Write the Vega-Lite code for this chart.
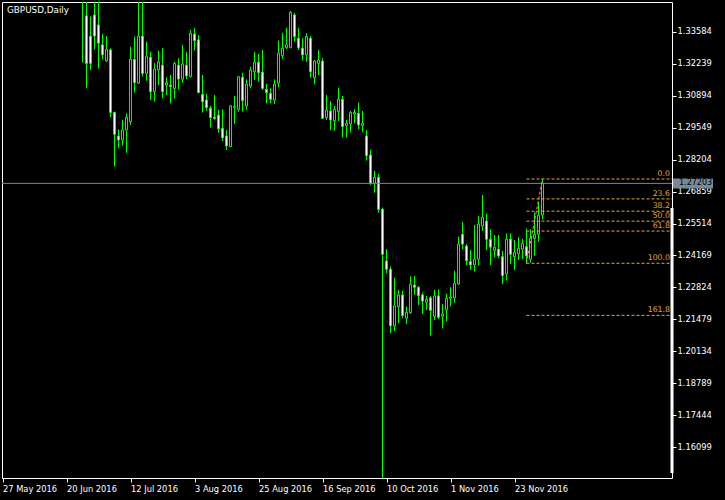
{
"$schema": "https://vega.github.io/schema/vega-lite/v6.json",
"width": 670,
"height": 476,
"autosize": {"type": "none"},
"padding": {"left": 2, "top": 2, "right": 53, "bottom": 22},
"background": "black",
"config": {"view": {"stroke": "white", "strokeWidth": 1, "fill": "black"}, "font": "DejaVu Sans", "axis": {"labelOverlap": false}},
"title": {"text": "GBPUSD,Daily", "anchor": "start", "frame": "group", "orient": "top", "offset": -11.5, "dx": 5, "dy": 8.5, "color": "white", "font": "DejaVu Sans", "fontSize": 8.8, "fontWeight": "normal", "baseline": "alphabetic"},
"datasets": {
"candles": [
{"d":"2016-06-24","o":1.4877,"h":1.5018,"l":1.3229,"c":1.3679},
{"d":"2016-06-27","o":1.3425,"h":1.3705,"l":1.3120,"c":1.3225},
{"d":"2016-06-28","o":1.3340,"h":1.3422,"l":1.3197,"c":1.3225},
{"d":"2016-06-29","o":1.3429,"h":1.3532,"l":1.3284,"c":1.3340},
{"d":"2016-06-30","o":1.3387,"h":1.3510,"l":1.3204,"c":1.3310},
{"d":"2016-07-01","o":1.3303,"h":1.3349,"l":1.3242,"c":1.3261},
{"d":"2016-07-04","o":1.3235,"h":1.3340,"l":1.3232,"c":1.3284},
{"d":"2016-07-05","o":1.3282,"h":1.3289,"l":1.2998,"c":1.3019},
{"d":"2016-07-06","o":1.3019,"h":1.3022,"l":1.2791,"c":1.2927},
{"d":"2016-07-07","o":1.2920,"h":1.2946,"l":1.2870,"c":1.2903},
{"d":"2016-07-08","o":1.2903,"h":1.2988,"l":1.2879,"c":1.2945},
{"d":"2016-07-11","o":1.2945,"h":1.3015,"l":1.2849,"c":1.2998},
{"d":"2016-07-12","o":1.2980,"h":1.3295,"l":1.2966,"c":1.3242},
{"d":"2016-07-13","o":1.3242,"h":1.3338,"l":1.3102,"c":1.3144},
{"d":"2016-07-14","o":1.3142,"h":1.3482,"l":1.3140,"c":1.3340},
{"d":"2016-07-15","o":1.3340,"h":1.3485,"l":1.3170,"c":1.3183},
{"d":"2016-07-18","o":1.3183,"h":1.3316,"l":1.3152,"c":1.3256},
{"d":"2016-07-19","o":1.3251,"h":1.3274,"l":1.3071,"c":1.3106},
{"d":"2016-07-20","o":1.3106,"h":1.3226,"l":1.3064,"c":1.3202},
{"d":"2016-07-21","o":1.3197,"h":1.3279,"l":1.3134,"c":1.3232},
{"d":"2016-07-22","o":1.3218,"h":1.3289,"l":1.3078,"c":1.3106},
{"d":"2016-07-25","o":1.3134,"h":1.3167,"l":1.3092,"c":1.3144},
{"d":"2016-07-26","o":1.3134,"h":1.3176,"l":1.3057,"c":1.3127},
{"d":"2016-07-27","o":1.3120,"h":1.3232,"l":1.3077,"c":1.3225},
{"d":"2016-07-28","o":1.3218,"h":1.3247,"l":1.3116,"c":1.3159},
{"d":"2016-07-29","o":1.3158,"h":1.3303,"l":1.3144,"c":1.3223},
{"d":"2016-08-01","o":1.3218,"h":1.3274,"l":1.3158,"c":1.3172},
{"d":"2016-08-02","o":1.3169,"h":1.3366,"l":1.3167,"c":1.3352},
{"d":"2016-08-03","o":1.3349,"h":1.3373,"l":1.3279,"c":1.3321},
{"d":"2016-08-04","o":1.3324,"h":1.3345,"l":1.3100,"c":1.3102},
{"d":"2016-08-05","o":1.3095,"h":1.3176,"l":1.3018,"c":1.3064},
{"d":"2016-08-08","o":1.3071,"h":1.3097,"l":1.3026,"c":1.3039},
{"d":"2016-08-09","o":1.3036,"h":1.3046,"l":1.2955,"c":1.2997},
{"d":"2016-08-10","o":1.2999,"h":1.3092,"l":1.2987,"c":1.2993},
{"d":"2016-08-11","o":1.3008,"h":1.3029,"l":1.2934,"c":1.2950},
{"d":"2016-08-12","o":1.2952,"h":1.3032,"l":1.2899,"c":1.2912},
{"d":"2016-08-15","o":1.2920,"h":1.2945,"l":1.2861,"c":1.2878},
{"d":"2016-08-16","o":1.2875,"h":1.3050,"l":1.2872,"c":1.3046},
{"d":"2016-08-17","o":1.3040,"h":1.3088,"l":1.2970,"c":1.3043},
{"d":"2016-08-18","o":1.3032,"h":1.3172,"l":1.3022,"c":1.3169},
{"d":"2016-08-19","o":1.3167,"h":1.3186,"l":1.3022,"c":1.3068},
{"d":"2016-08-22","o":1.3046,"h":1.3158,"l":1.3029,"c":1.3138},
{"d":"2016-08-23","o":1.3130,"h":1.3211,"l":1.3120,"c":1.3197},
{"d":"2016-08-24","o":1.3190,"h":1.3274,"l":1.3155,"c":1.3230},
{"d":"2016-08-25","o":1.3230,"h":1.3265,"l":1.3148,"c":1.3186},
{"d":"2016-08-26","o":1.3188,"h":1.3282,"l":1.3113,"c":1.3120},
{"d":"2016-08-29","o":1.3116,"h":1.3139,"l":1.3057,"c":1.3102},
{"d":"2016-08-30","o":1.3099,"h":1.3120,"l":1.3057,"c":1.3074},
{"d":"2016-08-31","o":1.3071,"h":1.3158,"l":1.3054,"c":1.3138},
{"d":"2016-09-01","o":1.3142,"h":1.3321,"l":1.3124,"c":1.3268},
{"d":"2016-09-02","o":1.3257,"h":1.3354,"l":1.3244,"c":1.3289},
{"d":"2016-09-05","o":1.3291,"h":1.3375,"l":1.3286,"c":1.3303},
{"d":"2016-09-06","o":1.3291,"h":1.3446,"l":1.3289,"c":1.3440},
{"d":"2016-09-07","o":1.3429,"h":1.3438,"l":1.3317,"c":1.3338},
{"d":"2016-09-08","o":1.3331,"h":1.3375,"l":1.3282,"c":1.3291},
{"d":"2016-09-09","o":1.3289,"h":1.3331,"l":1.3237,"c":1.3261},
{"d":"2016-09-12","o":1.3261,"h":1.3352,"l":1.3232,"c":1.3338},
{"d":"2016-09-13","o":1.3331,"h":1.3340,"l":1.3165,"c":1.3190},
{"d":"2016-09-14","o":1.3165,"h":1.3239,"l":1.3137,"c":1.3235},
{"d":"2016-09-15","o":1.3225,"h":1.3282,"l":1.3176,"c":1.3239},
{"d":"2016-09-16","o":1.3235,"h":1.3247,"l":1.2991,"c":1.2994},
{"d":"2016-09-19","o":1.2997,"h":1.3092,"l":1.2987,"c":1.3029},
{"d":"2016-09-20","o":1.3025,"h":1.3067,"l":1.2945,"c":1.2987},
{"d":"2016-09-21","o":1.2984,"h":1.3046,"l":1.2942,"c":1.3032},
{"d":"2016-09-22","o":1.3022,"h":1.3123,"l":1.2983,"c":1.3075},
{"d":"2016-09-23","o":1.3074,"h":1.3088,"l":1.2914,"c":1.2959},
{"d":"2016-09-26","o":1.2963,"h":1.2987,"l":1.2914,"c":1.2973},
{"d":"2016-09-27","o":1.2970,"h":1.3025,"l":1.2934,"c":1.3019},
{"d":"2016-09-28","o":1.3012,"h":1.3033,"l":1.2973,"c":1.3019},
{"d":"2016-09-29","o":1.3015,"h":1.3060,"l":1.2949,"c":1.2966},
{"d":"2016-09-30","o":1.2963,"h":1.3025,"l":1.2935,"c":1.2973},
{"d":"2016-10-03","o":1.2920,"h":1.2945,"l":1.2816,"c":1.2837},
{"d":"2016-10-04","o":1.2840,"h":1.2861,"l":1.2714,"c":1.2721},
{"d":"2016-10-05","o":1.2721,"h":1.2773,"l":1.2681,"c":1.2746},
{"d":"2016-10-06","o":1.2746,"h":1.2760,"l":1.2597,"c":1.2611},
{"d":"2016-10-07","o":1.2611,"h":1.2619,"l":1.1450,"c":1.2422},
{"d":"2016-10-10","o":1.2394,"h":1.2444,"l":1.2342,"c":1.2359},
{"d":"2016-10-11","o":1.2359,"h":1.2370,"l":1.2090,"c":1.2121},
{"d":"2016-10-12","o":1.2120,"h":1.2324,"l":1.2099,"c":1.2205},
{"d":"2016-10-13","o":1.2201,"h":1.2272,"l":1.2132,"c":1.2251},
{"d":"2016-10-14","o":1.2251,"h":1.2269,"l":1.2153,"c":1.2164},
{"d":"2016-10-17","o":1.2153,"h":1.2202,"l":1.2129,"c":1.2178},
{"d":"2016-10-18","o":1.2176,"h":1.2328,"l":1.2171,"c":1.2296},
{"d":"2016-10-19","o":1.2293,"h":1.2331,"l":1.2251,"c":1.2283},
{"d":"2016-10-20","o":1.2283,"h":1.2289,"l":1.2209,"c":1.2248},
{"d":"2016-10-21","o":1.2251,"h":1.2261,"l":1.2170,"c":1.2225},
{"d":"2016-10-24","o":1.2220,"h":1.2247,"l":1.2188,"c":1.2233},
{"d":"2016-10-25","o":1.2239,"h":1.2247,"l":1.2080,"c":1.2185},
{"d":"2016-10-26","o":1.2160,"h":1.2272,"l":1.2145,"c":1.2247},
{"d":"2016-10-27","o":1.2247,"h":1.2275,"l":1.2149,"c":1.2157},
{"d":"2016-10-28","o":1.2161,"h":1.2213,"l":1.2110,"c":1.2171},
{"d":"2016-10-31","o":1.2188,"h":1.2255,"l":1.2139,"c":1.2237},
{"d":"2016-11-01","o":1.2237,"h":1.2283,"l":1.2202,"c":1.2243},
{"d":"2016-11-02","o":1.2239,"h":1.2353,"l":1.2219,"c":1.2300},
{"d":"2016-11-03","o":1.2297,"h":1.2496,"l":1.2293,"c":1.2465},
{"d":"2016-11-04","o":1.2506,"h":1.2559,"l":1.2444,"c":1.2465},
{"d":"2016-11-07","o":1.2457,"h":1.2465,"l":1.2377,"c":1.2395},
{"d":"2016-11-08","o":1.2391,"h":1.2440,"l":1.2356,"c":1.2377},
{"d":"2016-11-09","o":1.2377,"h":1.2545,"l":1.2349,"c":1.2401},
{"d":"2016-11-10","o":1.2401,"h":1.2583,"l":1.2374,"c":1.2549},
{"d":"2016-11-11","o":1.2541,"h":1.2671,"l":1.2520,"c":1.2578},
{"d":"2016-11-14","o":1.2562,"h":1.2592,"l":1.2440,"c":1.2485},
{"d":"2016-11-15","o":1.2485,"h":1.2527,"l":1.2377,"c":1.2452},
{"d":"2016-11-16","o":1.2438,"h":1.2503,"l":1.2409,"c":1.2452},
{"d":"2016-11-17","o":1.2444,"h":1.2503,"l":1.2405,"c":1.2415},
{"d":"2016-11-18","o":1.2412,"h":1.2436,"l":1.2297,"c":1.2332},
{"d":"2016-11-21","o":1.2339,"h":1.2510,"l":1.2311,"c":1.2486},
{"d":"2016-11-22","o":1.2486,"h":1.2510,"l":1.2381,"c":1.2422},
{"d":"2016-11-23","o":1.2412,"h":1.2482,"l":1.2356,"c":1.2430},
{"d":"2016-11-24","o":1.2424,"h":1.2494,"l":1.2398,"c":1.2447},
{"d":"2016-11-25","o":1.2443,"h":1.2486,"l":1.2401,"c":1.2468},
{"d":"2016-11-28","o":1.2454,"h":1.2531,"l":1.2384,"c":1.2415},
{"d":"2016-11-29","o":1.2401,"h":1.2527,"l":1.2387,"c":1.2489},
{"d":"2016-11-30","o":1.2489,"h":1.2597,"l":1.2415,"c":1.2506},
{"d":"2016-12-01","o":1.2506,"h":1.2643,"l":1.2475,"c":1.2587},
{"d":"2016-12-02","o":1.2587,"h":1.2739,"l":1.2569,"c":1.2720}
],
"fib": [
{"level":"0.0","price":1.27387,"start":"2016-11-28"},
{"level":"23.6","price":1.26550,"start":"2016-11-28"},
{"level":"38.2","price":1.26032,"start":"2016-11-28"},
{"level":"50.0","price":1.25614,"start":"2016-11-28"},
{"level":"61.8","price":1.25196,"start":"2016-11-28"},
{"level":"100.0","price":1.23841,"start":"2016-11-28"},
{"level":"161.8","price":1.21650,"start":"2016-11-28"}
],
"trend": [{"from":"2016-11-28","to":"2016-12-02","p1":1.23841,"p2":1.27387}],
"bid": [{"price":1.27203,"label":"1.27203"}]
},
"layer": [
{
"data": {"name": "candles"},
"mark": {"type": "rule", "color": "#00FF00", "strokeWidth": 1, "clip": true},
"encoding": {
"x": {"field": "d", "type": "ordinal", "title": null,
"scale": {"type": "point", "padding": 0, "range": [0.5, 540.5], "domain": ["2016-05-27","2016-05-30","2016-05-31","2016-06-01","2016-06-02","2016-06-03","2016-06-06","2016-06-07","2016-06-08","2016-06-09","2016-06-10","2016-06-13","2016-06-14","2016-06-15","2016-06-16","2016-06-17","2016-06-20","2016-06-21","2016-06-22","2016-06-23","2016-06-24","2016-06-27","2016-06-28","2016-06-29","2016-06-30","2016-07-01","2016-07-04","2016-07-05","2016-07-06","2016-07-07","2016-07-08","2016-07-11","2016-07-12","2016-07-13","2016-07-14","2016-07-15","2016-07-18","2016-07-19","2016-07-20","2016-07-21","2016-07-22","2016-07-25","2016-07-26","2016-07-27","2016-07-28","2016-07-29","2016-08-01","2016-08-02","2016-08-03","2016-08-04","2016-08-05","2016-08-08","2016-08-09","2016-08-10","2016-08-11","2016-08-12","2016-08-15","2016-08-16","2016-08-17","2016-08-18","2016-08-19","2016-08-22","2016-08-23","2016-08-24","2016-08-25","2016-08-26","2016-08-29","2016-08-30","2016-08-31","2016-09-01","2016-09-02","2016-09-05","2016-09-06","2016-09-07","2016-09-08","2016-09-09","2016-09-12","2016-09-13","2016-09-14","2016-09-15","2016-09-16","2016-09-19","2016-09-20","2016-09-21","2016-09-22","2016-09-23","2016-09-26","2016-09-27","2016-09-28","2016-09-29","2016-09-30","2016-10-03","2016-10-04","2016-10-05","2016-10-06","2016-10-07","2016-10-10","2016-10-11","2016-10-12","2016-10-13","2016-10-14","2016-10-17","2016-10-18","2016-10-19","2016-10-20","2016-10-21","2016-10-24","2016-10-25","2016-10-26","2016-10-27","2016-10-28","2016-10-31","2016-11-01","2016-11-02","2016-11-03","2016-11-04","2016-11-07","2016-11-08","2016-11-09","2016-11-10","2016-11-11","2016-11-14","2016-11-15","2016-11-16","2016-11-17","2016-11-18","2016-11-21","2016-11-22","2016-11-23","2016-11-24","2016-11-25","2016-11-28","2016-11-29","2016-11-30","2016-12-01","2016-12-02"]},
"axis": {"title": null, "values": ["2016-05-27","2016-06-20","2016-07-12","2016-08-03","2016-08-25","2016-09-16","2016-10-10","2016-11-01","2016-11-23"], "labelExpr": "utcFormat(toDate(datum.value), '%-d %b %Y')", "domain": false, "grid": false, "tickColor": "white", "tickSize": 4, "labelColor": "white", "labelAlign": "left", "labelBaseline": "top", "labelPadding": 2, "labelFontSize": 8.3, "labelFont": "DejaVu Sans", "labelAngle": 0, "labelOverlap": false, "labelFlush": false, "labelBound": false}},
"y": {"field": "l", "type": "quantitative", "title": null,
"scale": {"domain": [1.14808, 1.34834], "nice": false, "zero": false},
"axis": {"orient": "right", "title": null, "tickCount": 30, "values": [1.16099,1.17444,1.18789,1.20134,1.21479,1.22824,1.24169,1.25514,1.26859,1.28204,1.29549,1.30894,1.32239,1.33584], "format": ".5f", "domain": false, "grid": false, "tickColor": "white", "tickSize": 4, "labelColor": "white", "labelPadding": 1, "labelFontSize": 8.3, "labelFont": "DejaVu Sans", "labelBound": false, "labelFlush": false, "labelOverlap": false}},
"y2": {"field": "h"}
}
},
{
"data": {"name": "candles"},
"mark": {"type": "bar", "size": 2, "stroke": "#00FF00", "strokeWidth": 1, "clip": true},
"encoding": {
"x": {"field": "d", "type": "ordinal", "title": null},
"y": {"field": "o", "type": "quantitative", "title": null},
"y2": {"field": "c"},
"fill": {"condition": {"test": "datum.c < datum.o", "value": "white"}, "value": "black"}
}
},
{
"data": {"name": "bid"},
"mark": {"type": "rule", "color": "#778899", "strokeWidth": 1},
"encoding": {"y": {"field": "price", "type": "quantitative", "title": null}}
},
{
"data": {"name": "fib"},
"mark": {"type": "rule", "color": "#EBA338", "strokeWidth": 1, "strokeDash": [3, 2]},
"encoding": {
"x": {"field": "start", "type": "ordinal", "title": null},
"x2": {"value": "width"},
"y": {"field": "price", "type": "quantitative", "title": null}
}
},
{
"data": {"name": "fib"},
"mark": {"type": "text", "align": "right", "baseline": "alphabetic", "dx": -2, "dy": -3, "color": "#EBA338", "font": "DejaVu Sans", "fontSize": 7.8},
"encoding": {
"x": {"value": "width"},
"y": {"field": "price", "type": "quantitative", "title": null},
"text": {"field": "level"}
}
},
{
"data": {"name": "trend"},
"mark": {"type": "rule", "color": "#EBA338", "strokeWidth": 1, "strokeDash": [3, 2]},
"encoding": {
"x": {"field": "from", "type": "ordinal", "title": null},
"x2": {"field": "to"},
"y": {"field": "p1", "type": "quantitative", "title": null},
"y2": {"field": "p2"}
}
},
{
"data": {"values": [{}]},
"mark": {"type": "rule", "color": "white", "strokeWidth": 3},
"encoding": {
"x": {"value": "width"},
"y": {"datum": 1.2617},
"y2": {"datum": 1.1502}
}
},
{
"data": {"name": "bid"},
"mark": {"type": "point", "shape": "M0,-0.25L2,-0.25L2,0.25L0,0.25Z", "size": 1600, "filled": true, "color": "#778899", "opacity": 1, "xOffset": 1},
"encoding": {
"x": {"value": "width"},
"y": {"field": "price", "type": "quantitative", "title": null}
}
},
{
"data": {"name": "bid"},
"mark": {"type": "text", "align": "left", "baseline": "middle", "dx": 7, "color": "black", "font": "DejaVu Sans", "fontSize": 8},
"encoding": {
"x": {"value": "width"},
"y": {"field": "price", "type": "quantitative", "title": null},
"text": {"field": "label"}
}
}
]
}
